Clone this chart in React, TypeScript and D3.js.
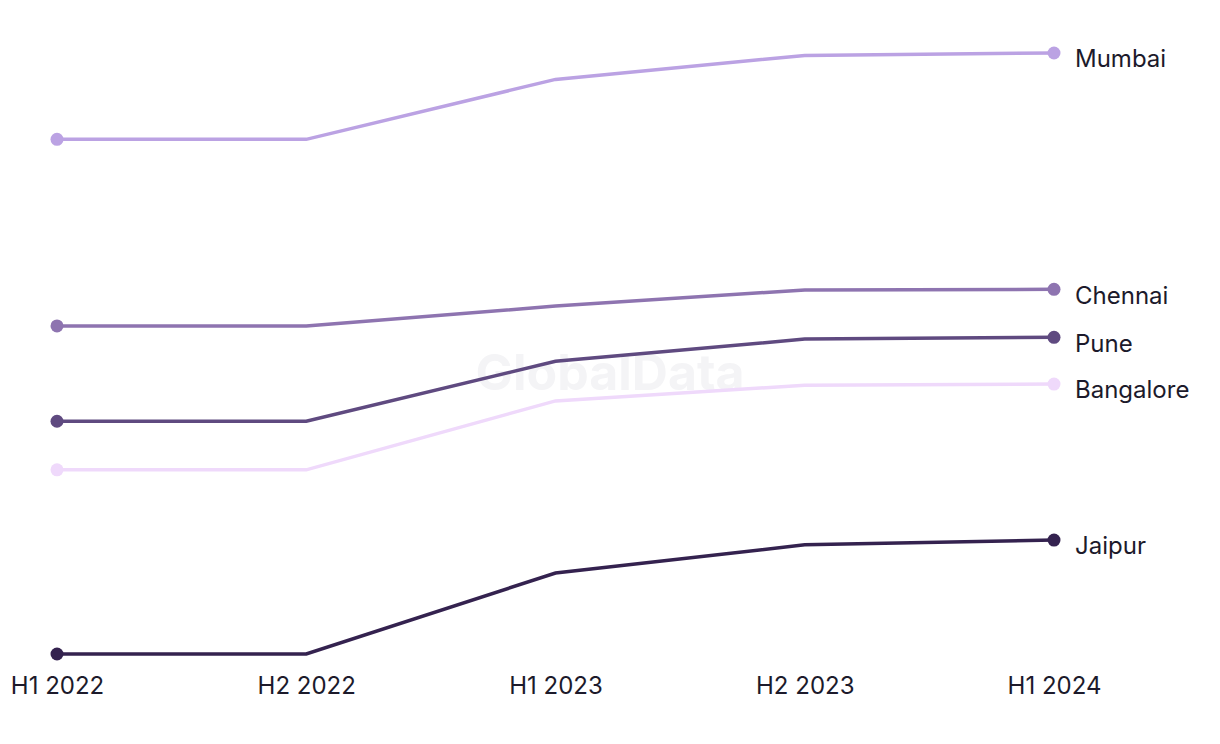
import React, { useRef, useEffect } from "react";
import * as d3 from "d3";

const periods = ["H1 2022", "H2 2022", "H1 2023", "H2 2023", "H1 2024"];
const cities = ["Mumbai", "Chennai", "Pune", "Bangalore", "Jaipur"];
const colors = ["#bba2e3", "#8e74b0", "#5f4a80", "#efd9fb", "#34224f"];

// index values
const mumbai = [85.8, 85.8, 95.8, 99.8, 100.2];
const chennai = [54.7, 54.7, 58.0, 60.7, 60.8];
const pune = [38.8, 38.8, 48.8, 52.5, 52.8];
const bangalore = [30.7, 30.7, 42.2, 44.8, 45.0];
const jaipur = [0, 0, 13.5, 18.2, 19.0];

const seriesValues = [mumbai, chennai, pune, bangalore, jaipur];

const App: React.FC = () => {
  const svgRef = useRef<SVGSVGElement | null>(null);

  useEffect(() => {
    if (!svgRef.current) return;
    const svg = d3.select(svgRef.current);
    svg.selectAll("*").remove();

    const x = d3.scalePoint<string>().domain(periods).range([57, 1054]);
    const y = d3.scaleLinear().domain([0, 100.2]).range([654, 53]);

    // watermark
    svg
      .append("text")
      .attr("x", 610)
      .attr("y", 390)
      .attr("text-anchor", "middle")
      .attr("font-family", "Inter, 'Noto Sans', sans-serif")
      .attr("font-weight", 700)
      .attr("font-size", 50)
      .attr("fill", "#f4f4f6")
      .text("GlobalData");

    // x axis labels
    svg
      .append("g")
      .attr("transform", "translate(0,654)")
      .call(d3.axisBottom(x).tickSize(0).tickPadding(23))
      .call((g) => g.select(".domain").remove())
      .call((g) =>
        g
          .selectAll(".tick text")
          .attr("fill", "#1c1a2b")
          .attr("font-size", "24px")
          .attr("font-family", "Inter, 'Noto Sans', sans-serif")
      );

    const line = d3
      .line<number>()
      .x((_, i) => x(periods[i]) as number)
      .y((d) => y(d));

    cities.forEach((city, si) => {
      const vals = seriesValues[si];
      const g = svg.append("g");
      g.append("path")
        .datum(vals)
        .attr("fill", "none")
        .attr("stroke", colors[si])
        .attr("stroke-width", 3.5)
        .attr("d", line);

      g.selectAll("circle")
        .data([0, vals.length - 1])
        .join("circle")
        .attr("cx", (i) => x(periods[i]) as number)
        .attr("cy", (i) => y(vals[i]))
        .attr("r", 6.5)
        .attr("fill", colors[si]);

      g.append("text")
        .attr("x", (x(periods[periods.length - 1]) as number) + 21)
        .attr("y", y(vals[vals.length - 1]) + 6)
        .attr("dy", "0.35em")
        .attr("font-size", 24)
        .attr("font-family", "Inter, 'Noto Sans', sans-serif")
        .attr("fill", "#1c1a2b")
        .text(city);
    });
  }, []);

  return (
    <svg
      ref={svgRef}
      width={1220}
      height={744}
      style={{ position: "absolute", left: 0, top: 0, background: "#fff" }}
    />
  );
};

export default App;
